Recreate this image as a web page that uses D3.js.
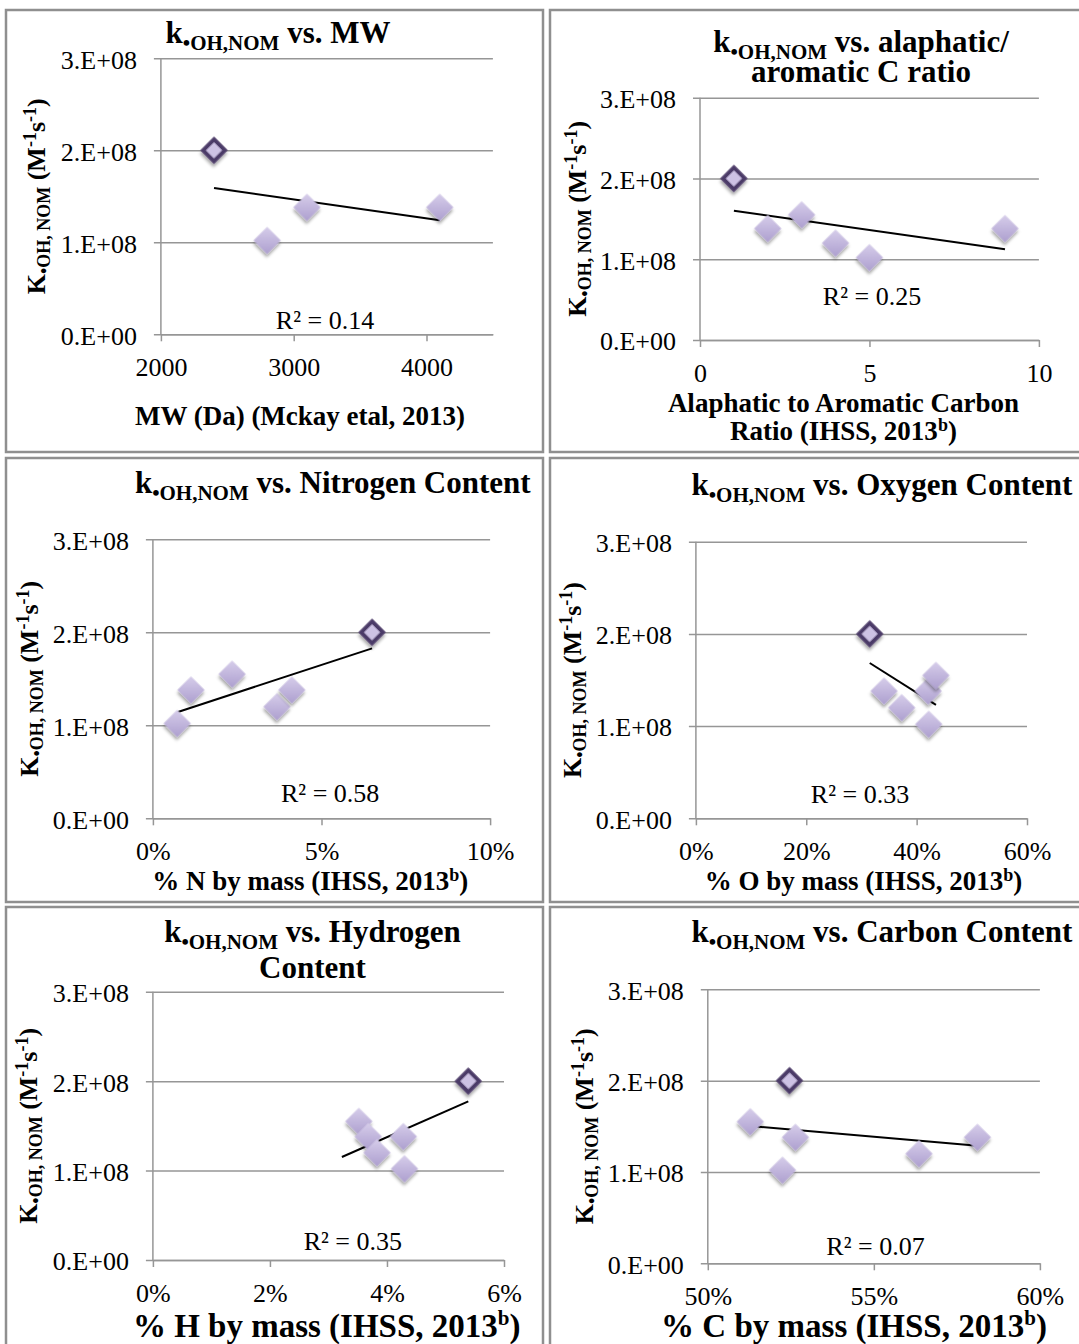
<!DOCTYPE html>
<html>
<head>
<meta charset="utf-8">
<script src="https://cdn.jsdelivr.net/npm/d3@7"></script>
<style>
  body { margin: 0; background: #fff; }
  text { font-family: "Liberation Serif", "Times New Roman", serif; fill: #000; }
</style>
</head>
<body>
<svg id="chart" width="1079" height="1344"></svg>
<script>
// shared y axis
const yTicks = [0, 1e8, 2e8, 3e8];
const yTickLabels = ["0.E+00", "1.E+08", "2.E+08", "3.E+08"];

// first point of every series is the highlighted sample
const mwX = [2400, 2800, 3100, 4100];
const mwY = [2.0e8, 1.02e8, 1.38e8, 1.38e8];
const mwTicks = [2000, 3000, 4000];
const mwTickLabels = ["2000", "3000", "4000"];

const ratioX = [1, 2, 3, 4, 5, 9];
const ratioY = [2.0e8, 1.38e8, 1.55e8, 1.2e8, 1.02e8, 1.38e8];
const ratioTicks = [0, 5, 10];
const ratioTickLabels = ["0", "5", "10"];

const nX = [0.065, 0.0072, 0.0113, 0.0235, 0.0368, 0.0412];
const nY = [2.0e8, 1.02e8, 1.38e8, 1.55e8, 1.2e8, 1.38e8];
const nTicks = [0, 0.05, 0.10];
const nTickLabels = ["0%", "5%", "10%"];

const oX = [0.315, 0.341, 0.373, 0.421, 0.435, 0.422];
const oY = [2.0e8, 1.38e8, 1.2e8, 1.38e8, 1.55e8, 1.02e8];
const oTicks = [0, 0.2, 0.4, 0.6];
const oTickLabels = ["0%", "20%", "40%", "60%"];

const hX = [0.0539, 0.0352, 0.0368, 0.0383, 0.0428, 0.0430];
const hY = [2.0e8, 1.55e8, 1.38e8, 1.2e8, 1.38e8, 1.02e8];
const hTicks = [0, 0.02, 0.04, 0.06];
const hTickLabels = ["0%", "2%", "4%", "6%"];

const cX = [0.5246, 0.5128, 0.5264, 0.5225, 0.5636, 0.5812];
const cY = [2.0e8, 1.55e8, 1.38e8, 1.02e8, 1.2e8, 1.38e8];
const cTicks = [0.5, 0.55, 0.6];
const cTickLabels = ["50%", "55%", "60%"];

const xDomains = [[2000, 4500], [0, 10], [0, 0.1], [0, 0.6], [0, 0.06], [0.5, 0.6]];
const trendRanges = [[2400, 4100], [1, 9], [0.0072, 0.065], [0.315, 0.435], [0.0323, 0.0539], [0.5128, 0.5812]];
const r2Labels = ["R² = 0.14", "R² = 0.25", "R² = 0.58", "R² = 0.33", "R² = 0.35", "R² = 0.07"];

const titleTails = [
  [" vs. MW"],
  [" vs. alaphatic/", "aromatic C ratio"],
  [" vs. Nitrogen Content"],
  [" vs. Oxygen Content"],
  [" vs. Hydrogen", "Content"],
  [" vs. Carbon Content"]
];
const xTitles = [
  ["MW (Da) (Mckay etal, 2013)"],
  ["Alaphatic to Aromatic Carbon", "Ratio (IHSS, 2013^b)"],
  ["% N by mass (IHSS, 2013^b)"],
  ["% O by mass (IHSS, 2013^b)"],
  ["% H by mass (IHSS, 2013^b)"],
  ["% C by mass (IHSS, 2013^b)"]
];

const series = [
  [mwX, mwY, mwTicks, mwTickLabels],
  [ratioX, ratioY, ratioTicks, ratioTickLabels],
  [nX, nY, nTicks, nTickLabels],
  [oX, oY, oTicks, oTickLabels],
  [hX, hY, hTicks, hTickLabels],
  [cX, cY, cTicks, cTickLabels]
];

// panel geometry (panel-local pixels)
const layout = [
  { ox: 6,   oy: 10,  w: 537, h: 442, left: 154.9, right: 486.9, top: 48.3, bottom: 324.3, titleX: 272,   titleY: [33.3],       anchor: "middle", ylabX: 39,   xtX: 294,   xtY: [415],        xtSize: 27, r2X: 319,   r2Y: 319.3 },
  { ox: 550, oy: 10,  w: 537, h: 442, left: 150,   right: 488.9, top: 87.7, bottom: 330,   titleX: 311,   titleY: [41.7, 71.7], anchor: "middle", ylabX: 35.9, xtX: 293.5, xtY: [401.7, 430], xtSize: 27, r2X: 322,   r2Y: 295 },
  { ox: 6,   oy: 458, w: 537, h: 444, left: 146.9, right: 484.1, top: 81.3, bottom: 360.3, titleX: 326.8, titleY: [35.3],       anchor: "middle", ylabX: 32.2, xtX: 304.2, xtY: [432],        xtSize: 27, r2X: 324.2, r2Y: 343.7 },
  { ox: 550, oy: 458, w: 537, h: 444, left: 145.9, right: 477,   top: 83.7, bottom: 360.3, titleX: 141.5, titleY: [37],         anchor: "start",  ylabX: 30.8, xtX: 313.5, xtY: [432],        xtSize: 27, r2X: 310,   r2Y: 345.3 },
  { ox: 6,   oy: 907, w: 537, h: 444, left: 146.9, right: 498,   top: 84.7, bottom: 353,   titleX: 306.5, titleY: [34.7, 71.3], anchor: "middle", ylabX: 30.5, xtX: 320.7, xtY: [429.7],      xtSize: 33, r2X: 346.8, r2Y: 343 },
  { ox: 550, oy: 907, w: 537, h: 444, left: 157.8, right: 489.9, top: 82.3, bottom: 356.3, titleX: 141.5, titleY: [35.3],       anchor: "start",  ylabX: 42.7, xtX: 304,   xtY: [429.7],      xtSize: 33, r2X: 325.5, r2Y: 348 }
];

const gridColor = "#969696";

const svg = d3.select("#chart");
const defs = svg.append("defs");

const shadow = defs.append("filter").attr("id", "shadow")
  .attr("x", "-50%").attr("y", "-50%").attr("width", "200%").attr("height", "200%");
shadow.append("feDropShadow")
  .attr("dx", 2).attr("dy", 2.5).attr("stdDeviation", 1.8)
  .attr("flood-color", "#000").attr("flood-opacity", 0.35);

const grad = defs.append("linearGradient").attr("id", "lav")
  .attr("x1", 0).attr("y1", 0).attr("x2", 1).attr("y2", 1);
grad.append("stop").attr("offset", "0%").attr("stop-color", "#d6cdea");
grad.append("stop").attr("offset", "100%").attr("stop-color", "#ad9fcf");

// append tspans: kind 0 = normal, 1 = subscript, 2 = superscript
function rich(text, parts, size, small, subShift, supShift) {
  let offset = 0;
  parts.forEach(([str, kind]) => {
    const target = kind === 1 ? subShift : kind === 2 ? -supShift : 0;
    text.append("tspan")
      .attr("dy", target - offset)
      .attr("font-size", kind === 0 ? size : small)
      .text(str);
    offset = target;
  });
}

function supParts(line) {
  const bits = line.split("^b");
  if (bits.length === 1) return [[line, 0]];
  return [[bits[0], 0], ["b", 2], [bits[1], 0]];
}

// least squares line
function fit(xs, ys) {
  const mx = d3.mean(xs), my = d3.mean(ys);
  let sxy = 0, sxx = 0;
  xs.forEach((v, j) => { sxy += (v - mx) * (ys[j] - my); sxx += (v - mx) * (v - mx); });
  const b = sxy / sxx;
  return v => my + b * (v - mx);
}

const diamond = d3.symbol().type(d3.symbolSquare);

series.forEach(([xs, ys, ticks, tickLabels], i) => {
  const L = layout[i];
  const g = svg.append("g").attr("transform", `translate(${L.ox},${L.oy})`);

  g.append("rect")
    .attr("x", 0).attr("y", 0).attr("width", L.w).attr("height", L.h)
    .attr("fill", "none").attr("stroke", "#8f8f8f").attr("stroke-width", 2.5);

  const x = d3.scaleLinear().domain(xDomains[i]).range([L.left, L.right]);
  const y = d3.scaleLinear().domain([0, 3e8]).range([L.bottom, L.top]);

  // horizontal gridlines (with the little outward ticks)
  g.append("g")
    .attr("transform", `translate(${L.left - 7},0)`)
    .call(d3.axisRight(y).tickValues(yTicks).tickSize(L.right - L.left + 7).tickFormat(""))
    .call(a => a.select(".domain").remove())
    .call(a => a.selectAll("line").attr("stroke", gridColor).attr("stroke-width", 1.5));

  // y tick labels
  g.append("g")
    .attr("transform", `translate(${L.left},0)`)
    .call(d3.axisLeft(y).tickValues(yTicks).tickSize(0).tickPadding(24)
      .tickFormat((d, j) => yTickLabels[j]))
    .call(a => a.select(".domain").remove())
    .call(a => a.selectAll("text")
      .attr("dy", "0.38em").attr("font-size", 26).attr("font-family", null));

  // y axis line
  g.append("line")
    .attr("x1", x.range()[0]).attr("x2", x.range()[0])
    .attr("y1", y(0)).attr("y2", y(3e8))
    .attr("stroke", gridColor).attr("stroke-width", 1.5);

  // x axis
  g.append("g")
    .attr("transform", `translate(0,${L.bottom})`)
    .call(d3.axisBottom(x).tickValues(ticks).tickSize(7).tickSizeOuter(0).tickPadding(16.5)
      .tickFormat((d, j) => tickLabels[j]))
    .call(a => a.select(".domain").attr("stroke", gridColor).attr("stroke-width", 1.5))
    .call(a => a.selectAll("line").attr("stroke", gridColor).attr("stroke-width", 1.5))
    .call(a => a.selectAll("text").attr("font-size", 26).attr("font-family", null));

  // trendline
  const f = fit(xs, ys);
  g.append("path")
    .datum(trendRanges[i])
    .attr("d", d3.line().x(v => x(v)).y(v => y(f(v))))
    .attr("fill", "none").attr("stroke", "#000").attr("stroke-width", 2);

  const pts = xs.map((v, j) => ({ x: v, y: ys[j], hi: j === 0 }));

  g.selectAll(".pt")
    .data(pts.filter(d => !d.hi))
    .join("path")
    .attr("class", "pt")
    .attr("transform", d => `translate(${x(d.x)},${y(d.y)}) rotate(45)`)
    .attr("d", diamond.size(370)())
    .attr("fill", "url(#lav)")
    .attr("filter", "url(#shadow)");

  g.selectAll(".hi")
    .data(pts.filter(d => d.hi))
    .join("path")
    .attr("class", "hi")
    .attr("transform", d => `translate(${x(d.x)},${y(d.y)}) rotate(45)`)
    .attr("d", diamond.size(235)())
    .attr("fill", "#cdc2e4")
    .attr("stroke", "#4c3b68").attr("stroke-width", 4)
    .attr("filter", "url(#shadow)");

  // R squared
  g.append("text")
    .attr("x", L.r2X).attr("y", L.r2Y)
    .attr("text-anchor", "middle").attr("font-size", 26)
    .text(r2Labels[i]);

  // title
  titleTails[i].forEach((line, k) => {
    const t = g.append("text")
      .attr("x", L.titleX).attr("y", L.titleY[k])
      .attr("text-anchor", L.anchor).attr("font-weight", "bold");
    const parts = k === 0 ? [["k", 0], ["•OH,NOM", 1], [line, 0]] : [[line, 0]];
    rich(t, parts, 31, 21, 7, 0);
  });

  // y label
  const yl = g.append("text")
    .attr("transform", `translate(${L.ylabX},${(L.top + L.bottom) / 2}) rotate(-90)`)
    .attr("text-anchor", "middle").attr("font-weight", "bold");
  rich(yl, [["K", 0], ["•OH, NOM", 1], [" (M", 0], ["-1", 2], ["s", 0], ["-1", 2], [")", 0]], 26, 18, 5, 9);

  // x title
  xTitles[i].forEach((line, k) => {
    const t = g.append("text")
      .attr("x", L.xtX).attr("y", L.xtY[k])
      .attr("text-anchor", "middle").attr("font-weight", "bold");
    rich(t, supParts(line), L.xtSize, Math.round(L.xtSize * 0.65), 0, L.xtSize * 0.35);
  });
});
</script>
</body>
</html>
